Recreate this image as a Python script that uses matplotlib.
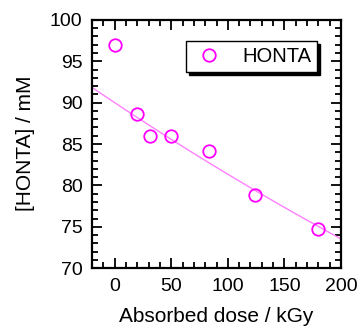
import numpy as np
import matplotlib
matplotlib.use("Agg")
import matplotlib.pyplot as plt
from matplotlib.ticker import MultipleLocator

plt.rcParams['font.family'] = ['Liberation Sans', 'DejaVu Sans']

# measured points
dose = [0, 20, 31, 50, 83, 124, 180]
honta = [97.0, 88.6, 86.0, 86.0, 84.2, 78.9, 74.7]

# exponential fit C = A * exp(-k * D)
fit_a = 90.0
fit_k = 0.00101

fig = plt.figure(figsize=(3.57, 3.27), dpi=100)
ax = fig.add_axes([0.258, 0.18, 0.697, 0.759])

d = np.linspace(-20, 200, 100)
ax.plot(d, fit_a * np.exp(-fit_k * d), color='#ff80ff', lw=1.0, zorder=2)
ax.plot(dose, honta, 'o', mfc='none', mec='#ff00ff', ms=9, mew=1.3,
        label='HONTA', zorder=3, clip_on=False)

ax.set_xlim(-20, 200)
ax.set_ylim(70, 100)
ax.xaxis.set_major_locator(MultipleLocator(50))
ax.xaxis.set_minor_locator(MultipleLocator(10))
ax.yaxis.set_major_locator(MultipleLocator(5))
ax.yaxis.set_minor_locator(MultipleLocator(1))
ax.tick_params(which='both', direction='in', top=True, right=True,
               width=1.3, labelsize=14, pad=7)
ax.tick_params(which='major', length=7)
ax.tick_params(which='minor', length=4)
for s in ax.spines.values():
    s.set_linewidth(1.6)

ax.set_xlabel('Absorbed dose / kGy', fontsize=15, va='center')
ax.set_ylabel('[HONTA] / mM', fontsize=15, va='center')
ax.xaxis.set_label_coords(0.499, -0.196)
ax.yaxis.set_label_coords(-0.269, 0.502)

leg = ax.legend(loc='upper right', bbox_to_anchor=(0.905, 0.915), fontsize=14.5,
                frameon=True, shadow={'color': 'black', 'alpha': 1},
                fancybox=False, handletextpad=0.8, borderpad=0.3,
                handlelength=1.7, borderaxespad=0)
leg.get_frame().set_edgecolor('black')
leg.get_frame().set_linewidth(1.0)

fig.savefig('out.png', dpi=100)
